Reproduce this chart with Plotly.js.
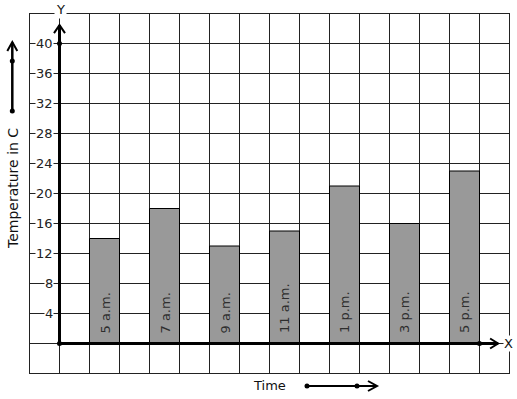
<!DOCTYPE html>
<html>
<head>
<meta charset="utf-8">
<script src="https://cdn.plot.ly/plotly-3.0.1.min.js"></script>
<style>html,body{margin:0;padding:0;background:#fff;}#chart{width:517px;height:399px;}</style>
</head>
<body>
<div id="chart"></div>
<script>
const categories = ['5 a.m.', '7 a.m.', '9 a.m.', '11 a.m.', '1 p.m.', '3 p.m.', '5 p.m.'];
const temperatures = [14, 18, 13, 15, 21, 16, 23];
const yTickValues = [4, 8, 12, 16, 20, 24, 28, 32, 36, 40];
const yTickLabels = ['4', '8', '12', '16', '20', '24', '28', '32', '36', '40'];
const xTitle = 'Time';
const yTitle = 'Temperature in C';

// layout geometry (pixels)
const W = 517, H = 399;
const M = {l: 30, r: 8, t: 14, b: 26};
const PW = W - M.l - M.r, PH = H - M.t - M.b;
const px = p => (p - M.l) / PW;      // pixel x -> paper
const py = p => (M.t + PH - p) / PH; // pixel y -> paper

// scales: 30 px per x unit, 7.5 px per y unit; half-pixel offsets keep grid lines crisp
const XS = 30, YS = 7.5;
const xMin = -1 + 0.5 / XS, xMax = xMin + PW / XS;
const yMax = 44 - 0.5 / YS, yMin = yMax - PH / YS;

// bar positions: one bar every second grid column
const xpos = categories.map((c, i) => 2 * i + 1.5);

const trace = {
  type: 'bar',
  x: xpos,
  y: temperatures,
  width: 1,
  marker: {color: '#999999', line: {color: '#000', width: 1}},
  hoverinfo: 'skip',
  showlegend: false
};

const annotations = [];
// y tick labels with white background
yTickValues.forEach((v, i) => {
  annotations.push({
    x: 0, xref: 'x', y: v, yref: 'y', text: yTickLabels[i],
    showarrow: false, xanchor: 'right', yanchor: 'middle', xshift: -6, yshift: 0.5,
    bgcolor: '#fff', borderpad: 0, font: {size: 13, color: '#222'}
  });
});
// labels inside bars
categories.forEach((c, i) => {
  annotations.push({
    x: xpos[i], xref: 'x', y: 0, yref: 'y', text: c,
    showarrow: false, textangle: -90, xanchor: 'center', yanchor: 'bottom', yshift: 9,
    borderpad: 0, font: {size: 13, color: '#2e2e2e'}
  });
});
// axis letters
annotations.push({x: 0, xref: 'x', xshift: 1, y: py(10), yref: 'paper', text: 'Y', showarrow: false,
  xanchor: 'center', yanchor: 'middle', bgcolor: '#fff', borderpad: 1, font: {size: 13, color: '#111'}});
annotations.push({x: px(508.5), xref: 'paper', y: 0, yref: 'y', text: 'X', showarrow: false,
  xanchor: 'center', yanchor: 'middle', bgcolor: '#fff', borderpad: 0, font: {size: 13, color: '#111'}});
// titles
annotations.push({x: px(13), xref: 'paper', y: py(189), yref: 'paper', text: yTitle, showarrow: false,
  textangle: -90, xanchor: 'center', yanchor: 'middle', font: {size: 14, color: '#111'}});
annotations.push({x: px(269), xref: 'paper', y: py(385), yref: 'paper', text: xTitle, showarrow: false,
  xanchor: 'center', yanchor: 'middle', font: {size: 13, color: '#111'}});

const shapes = [];
const line = (x0, y0, x1, y1, xref, yref, w) => shapes.push({type: 'line', x0, y0, x1, y1, xref, yref, line: {color: '#000', width: w}});
const path = (d, xref, yref, w) => shapes.push({type: 'path', path: d, xref, yref, line: {color: '#000', width: w}});
const dot = (x, y, xref, yref) => shapes.push({type: 'circle', xref, yref, xsizemode: 'pixel', ysizemode: 'pixel',
  xanchor: x, yanchor: y, x0: -2.5, x1: 2.5, y0: -2.5, y1: 2.5, fillcolor: '#000', line: {color: '#000', width: 0}});

// main axes (data coordinates)
const yTip = 42.45, xTip = 14.62;
line(0, 0, 0, yTip, 'x', 'y', 3);
line(0, 0, xTip, 0, 'x', 'y', 3);
const cx = 5.5 / XS, cy = 8 / YS;
path(`M ${-cx} ${yTip - cy} L 0 ${yTip} L ${cx} ${yTip - cy}`, 'x', 'y', 2);
const ax = 8 / XS, ay = 5 / YS;
path(`M ${xTip - ax} ${-ay} L ${xTip} 0 L ${xTip - ax} ${ay}`, 'x', 'y', 2);
dot(0, 0, 'x', 'y');
dot(0, 40, 'x', 'y');
dot(14, 0, 'x', 'y');

// outside arrows (paper)
line(px(12.3), py(111), px(12.3), py(42.5), 'paper', 'paper', 2.5);
path(`M ${px(7.3)} ${py(51)} L ${px(12.3)} ${py(42)} L ${px(17.3)} ${py(51)}`, 'paper', 'paper', 2);
dot(px(12.3), py(61), 'paper', 'paper');
dot(px(12.3), py(111), 'paper', 'paper');

line(px(307), py(386), px(376), py(386), 'paper', 'paper', 2);
path(`M ${px(368)} ${py(381)} L ${px(377)} ${py(386)} L ${px(368)} ${py(391)}`, 'paper', 'paper', 2);
dot(px(307), py(386), 'paper', 'paper');
dot(px(357), py(386), 'paper', 'paper');

const axisCommon = {
  showgrid: true, gridcolor: '#222', gridwidth: 1, zeroline: false,
  showline: true, mirror: true, linecolor: '#222', linewidth: 1,
  ticks: '', showticklabels: false, fixedrange: true
};

const layout = {
  width: W, height: H,
  margin: M,
  paper_bgcolor: '#fff', plot_bgcolor: '#fff',
  font: {family: 'DejaVu Sans', size: 13, color: '#111'},
  xaxis: Object.assign({range: [xMin, xMax], dtick: 1, tick0: 0}, axisCommon),
  yaxis: Object.assign({range: [yMin, yMax], dtick: 4, tick0: 0}, axisCommon),
  bargap: 0,
  showlegend: false,
  annotations, shapes
};

Plotly.newPlot('chart', [trace], layout, {staticPlot: true, displayModeBar: false});
</script>
</body>
</html>
